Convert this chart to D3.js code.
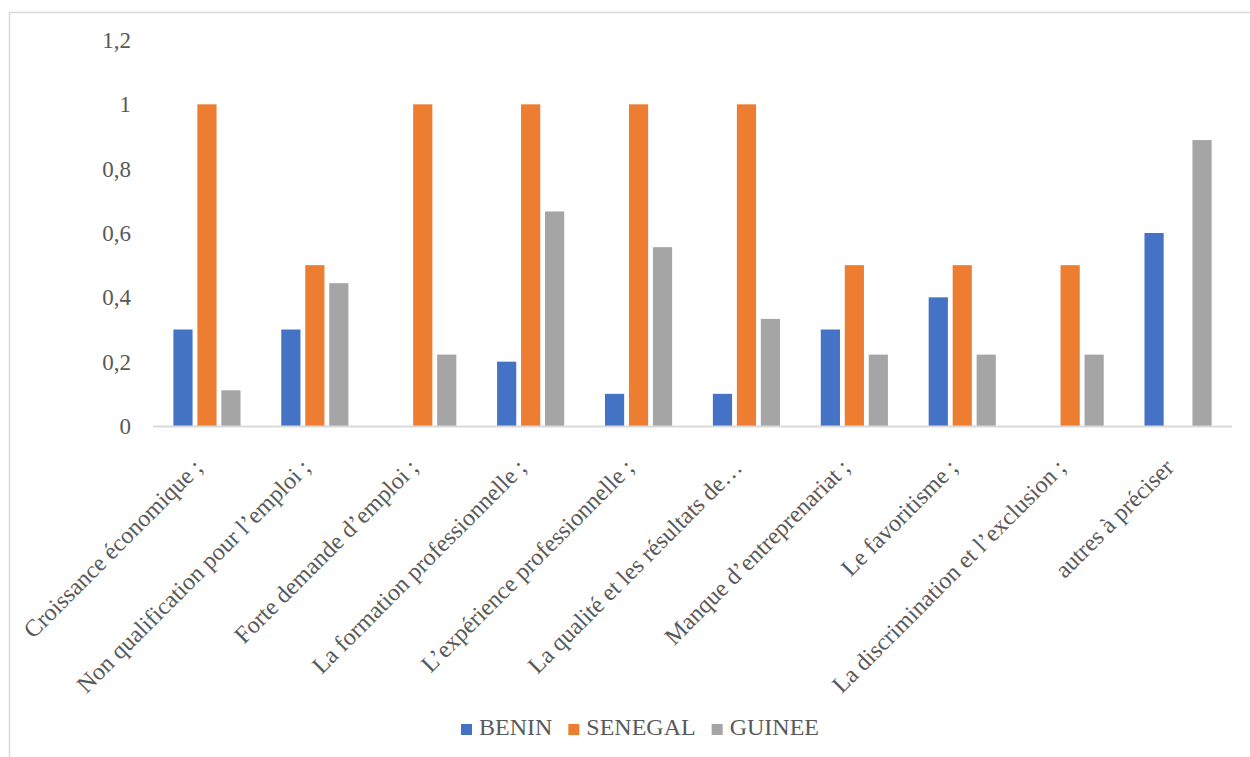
<!DOCTYPE html>
<html>
  <head>
    <meta charset="utf-8">
    <title>BENIN / SENEGAL / GUINEE</title>
    <script src="https://d3js.org/d3.v7.min.js" charset="utf-8"></script>
    <style>
      body{
        margin: 0;
        background: #fff;
      }
      svg text{
        font-family: 'Liberation Serif', 'Times New Roman', serif;
        fill: #595959;
      }
    </style>
  </head>
  <body>

    <svg></svg>

    <script>

      //begin: data
      var categories = [
        "Croissance économique ;",
        "Non qualification pour l’emploi ;",
        "Forte demande d’emploi ;",
        "La formation professionnelle ;",
        "L’expérience professionnelle ;",
        "La qualité et les résultats de…",
        "Manque d’entreprenariat ;",
        "Le favoritisme ;",
        "La discrimination et l’exclusion ;",
        "autres à préciser"
      ];
      var seriesNames = ["BENIN", "SENEGAL", "GUINEE"];
      var benin   = [0.3, 0.3, 0, 0.2, 0.1, 0.1, 0.3, 0.4, 0, 0.6];
      var senegal = [1, 0.5, 1, 1, 1, 1, 0.5, 0.5, 0.5, 0];
      var guinee  = [0.111, 0.444, 0.222, 0.667, 0.556, 0.333, 0.222, 0.222, 0.222, 0.889];
      var yTicks  = [0, 0.2, 0.4, 0.6, 0.8, 1, 1.2];
      //end: data

      //begin: layout conf.
      var svgWidth = 1250,
          svgHeight = 757,
          plotLeft = 153,
          plotRight = 1232,
          plotTop = 40,
          plotBottom = 426,
          tickFontSize = 23,
          labelFontSize = 24,
          colors = ["#4472C4", "#ED7D31", "#A5A5A5"];
      //end: layout conf.

      var rows = categories.map(function(c, i){
        return {cat: c, values: [benin[i], senegal[i], guinee[i]]};
      });

      var frFormat = d3.formatLocale({decimal: ",", thousands: " ", grouping: [3], currency: ["", " €"]}).format("~g");

      var svg = d3.select("svg")
        .attr("width", svgWidth)
        .attr("height", svgHeight);

      // chart frame (only top and left edges fall inside the picture)
      svg.append("rect")
        .attr("x", 9.5)
        .attr("y", 12.5)
        .attr("width", 1400)
        .attr("height", 900)
        .style("fill", "none")
        .style("stroke", "#D9D9D9")
        .style("stroke-width", 1.5);

      var x0 = d3.scaleBand()
        .domain(categories)
        .range([plotLeft, plotRight])
        .padding(0);

      var x1 = d3.scaleBand()
        .domain(seriesNames)
        .range([0, x0.bandwidth()])
        .paddingInner(0.2)
        .paddingOuter(0.85);

      var y = d3.scaleLinear()
        .domain([0, 1.2])
        .range([plotBottom, plotTop]);

      // y tick labels, no axis line
      var yAxis = svg.append("g")
        .attr("transform", "translate(" + plotLeft + ",0)")
        .call(d3.axisLeft(y).tickValues(yTicks).tickFormat(frFormat).tickSize(0).tickPadding(22));
      yAxis.select(".domain").remove();
      yAxis.selectAll("text")
        .style("font-size", tickFontSize + "px")
        .style("font-family", "'Liberation Serif', serif")
        .attr("fill", "#595959");

      // bars
      var groups = svg.append("g")
        .selectAll(".group")
        .data(rows)
        .enter()
          .append("g")
            .classed("group", true)
            .attr("transform", function(d){ return "translate(" + x0(d.cat) + ",0)"; });

      groups.selectAll("rect")
        .data(function(d){
          return d.values.map(function(v, j){ return {name: seriesNames[j], value: v, color: colors[j]}; });
        })
        .enter()
          .append("rect")
            .attr("x", function(d){ return x1(d.name); })
            .attr("width", x1.bandwidth())
            .attr("y", function(d){ return y(d.value); })
            .attr("height", function(d){ return y(0) - y(d.value); })
            .style("fill", function(d){ return d.color; });

      // x axis line
      svg.append("line")
        .attr("x1", plotLeft)
        .attr("x2", plotRight)
        .attr("y1", plotBottom + 0.5)
        .attr("y2", plotBottom + 0.5)
        .style("stroke", "#D9D9D9")
        .style("stroke-width", 2);

      // category labels, rotated -45
      svg.append("g")
        .selectAll(".cat")
        .data(categories)
        .enter()
          .append("text")
            .classed("cat", true)
            .attr("text-anchor", "end")
            .style("font-size", labelFontSize + "px")
            .attr("transform", function(d){
              return "translate(" + [x0(d) + x0.bandwidth()/2 - 3, plotBottom + 43] + ") rotate(-45)";
            })
            .text(function(d){ return d; });

      // legend
      var legend = svg.append("g");
      var lx = 0;
      seriesNames.forEach(function(name, i){
        var item = legend.append("g").attr("transform", "translate(" + lx + ",0)");
        item.append("rect")
          .attr("x", 0)
          .attr("y", -11)
          .attr("width", 11)
          .attr("height", 11)
          .style("fill", colors[i]);
        var t = item.append("text")
          .attr("x", 18)
          .attr("y", 0)
          .style("font-size", labelFontSize + "px")
          .text(name);
        lx += 18 + t.node().getComputedTextLength() + 16;
      });
      var legendWidth = lx - 16;
      legend.attr("transform", "translate(" + (640 - legendWidth/2) + ",735)");

    </script>
  </body>
</html>
